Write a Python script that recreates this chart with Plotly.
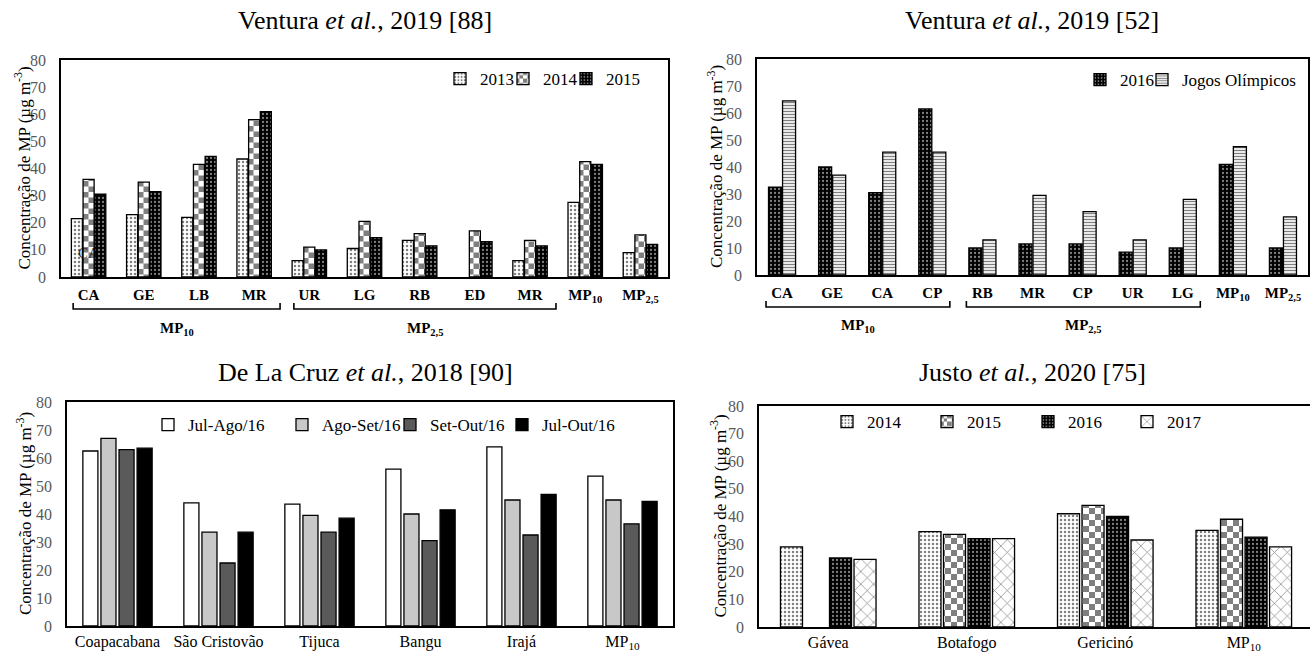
import plotly.graph_objects as go

W, H = 1310, 652
FONT = "Liberation Serif"
TICKGRAY = "#595959"

# ---------------- data ----------------
# Top-left: Ventura et al., 2019 [88]
tl_cats = ["CA", "GE", "LB", "MR", "UR", "LG", "RB", "ED", "MR", "MP<sub>10</sub>", "MP<sub>2,5</sub>"]
tl_2013 = [21.5, 23, 22, 43.5, 6, 10.5, 13.5, None, 6, 27.5, 9]
tl_2014 = [36, 35, 41.5, 58, 11, 20.5, 16, 17, 13.5, 42.5, 15.5]
tl_2015 = [30.5, 31.5, 44.5, 61, 10, 14.5, 11.5, 13, 11.5, 41.5, 12]
tl_groups = [("MP<sub>10</sub>", 0, 3), ("MP<sub>2,5</sub>", 4, 8)]

# Top-right: Ventura et al., 2019 [52]
tr_cats = ["CA", "GE", "CA", "CP", "RB", "MR", "CP", "UR", "LG", "MP<sub>10</sub>", "MP<sub>2,5</sub>"]
tr_2016 = [32.5, 40, 30.5, 61.5, 10, 11.5, 11.5, 8.5, 10, 41, 10]
tr_jogos = [64.5, 37, 45.5, 45.5, 13, 29.5, 23.5, 13, 28, 47.5, 21.5]
tr_groups = [("MP<sub>10</sub>", 0, 3), ("MP<sub>2,5</sub>", 4, 8)]

# Bottom-left: De La Cruz et al., 2018 [90]
bl_cats = ["Coapacabana", "São Cristovão", "Tijuca", "Bangu", "Irajá", "MP<sub>10</sub>"]
bl_jul_ago = [62.5, 44, 43.5, 56, 64, 53.5]
bl_ago_set = [67, 33.5, 39.5, 40, 45, 45]
bl_set_out = [63, 22.5, 33.5, 30.5, 32.5, 36.5]
bl_jul_out = [63.5, 33.5, 38.5, 41.5, 47, 44.5]

# Bottom-right: Justo et al., 2020 [75]
br_cats = ["Gávea", "Botafogo", "Gericinó", "MP<sub>10</sub>"]
br_2014 = [29, 34.5, 41, 35]
br_2015 = [None, 33.5, 44, 39]
br_2016 = [25, 32, 40, 32.5]
br_2017 = [24.5, 32, 31.5, 29]

titles = ["Ventura <i>et al.</i>, 2019 [88]", "Ventura <i>et al.</i>, 2019 [52]",
          "De La Cruz <i>et al.</i>, 2018 [90]", "Justo <i>et al.</i>, 2020 [75]"]
ytitle = "Concentração de MP (µg m<sup>-3</sup>)"

# ---------------- helpers ----------------
def px(v):
    return v / W

def py(v):
    return 1 - v / H

def checker(size):
    h = size / 2
    return f"M0,0H{h}V{h}H0Z M{h},{h}H{size}V{size}H{h}Z"

try:
    go.bar.marker.Pattern(path=checker(10))
    PATH_OK = True
except Exception:
    PATH_OK = False

def CHECK(sz):
    if PATH_OK:
        return dict(path=checker(sz), size=sz, fgcolor="black", bgcolor="white", solidity=0.5)
    return dict(shape="+", size=sz, fgcolor="black", bgcolor="white", solidity=0.5)

WDOTS = lambda sz, s: dict(shape=".", size=sz, solidity=s, fgcolor="black", bgcolor="white")
BDOTS = lambda sz, s: dict(shape=".", size=sz, solidity=s, fgcolor="white", bgcolor="black")
HLINES = dict(shape="-", size=3.0, solidity=0.45, fgcolor="black", bgcolor="white")
XHATCH = dict(shape="x", size=9, solidity=0.15, fgcolor="black", bgcolor="white")

fig = go.Figure()
legend_defs = {}
leg_counter = [0]

def add_group(series, cats, names, markers, xa, ya, w, gap, leg_pos, leg_y):
    n = len(series)
    total = n * w + (n - 1) * gap
    xs = list(range(len(cats)))
    for i, (vals, name, mk) in enumerate(zip(series, names, markers)):
        leg_counter[0] += 1
        lid = "legend" if leg_counter[0] == 1 else f"legend{leg_counter[0]}"
        legend_defs[lid] = (leg_pos[i], leg_y)
        fig.add_trace(go.Bar(
            x=xs, y=vals, name=name, xaxis=xa, yaxis=ya, legend=lid,
            width=w, offset=-total / 2 + i * (w + gap),
            marker=dict(line=dict(color="black", width=1.3), **mk),
        ))

# legend text start positions (pixels)
add_group([tl_2013, tl_2014, tl_2015], tl_cats, ["2013", "2014", "2015"],
          [dict(color="white", pattern=WDOTS(4, 0.3)), dict(color="white", pattern=CHECK(11)),
           dict(color="black", pattern=BDOTS(4, 0.25))],
          "x", "y", 0.2, 0.012, [480, 543, 606], 79)
add_group([tr_2016, tr_jogos], tr_cats, ["2016", "Jogos Olímpicos"],
          [dict(color="black", pattern=BDOTS(4, 0.25)), dict(color="white", pattern=HLINES)],
          "x2", "y2", 0.26, 0.02, [1120, 1182], 80)
add_group([bl_jul_ago, bl_ago_set, bl_set_out, bl_jul_out], bl_cats,
          ["Jul-Ago/16", "Ago-Set/16", "Set-Out/16", "Jul-Out/16"],
          [dict(color="white"), dict(color="#c8c8c8"), dict(color="#5a5a5a"), dict(color="black")],
          "x3", "y3", 0.149, 0.03, [188, 322, 430, 542], 425)
add_group([br_2014, br_2015, br_2016, br_2017], br_cats, ["2014", "2015", "2016", "2017"],
          [dict(color="white", pattern=WDOTS(4, 0.3)), dict(color="white", pattern=CHECK(12)),
           dict(color="black", pattern=BDOTS(4, 0.25)), dict(color="white", pattern=XHATCH)],
          "x4", "y4", 0.159, 0.018, [867, 967, 1068, 1167], 422)

# ---------------- axes ----------------
def xax(dom, cats, rng, yref, bold, size, standoff):
    txt = [f"<b>{c}</b>" for c in cats] if bold else cats
    return dict(domain=dom, range=rng, anchor=yref, tickmode="array",
                tickvals=list(range(len(cats))), ticktext=txt,
                showline=True, mirror=True, linecolor="black", linewidth=1.6,
                ticks="", showgrid=False, zeroline=False, ticklabelstandoff=standoff,
                tickfont=dict(family=FONT, size=size, color="black"), fixedrange=True)

def yax(dom, xref):
    return dict(domain=dom, range=[0, 80], dtick=10, anchor=xref,
                showline=True, mirror=True, linecolor="black", linewidth=1.6,
                ticks="", showgrid=False, zeroline=False, ticklabelstandoff=10,
                tickfont=dict(family=FONT, size=16, color=TICKGRAY), fixedrange=True)

fig.update_layout(
    xaxis=xax([px(61), px(668)], tl_cats, [-0.5, len(tl_cats) - 0.5], "y", True, 15, 3),
    yaxis=yax([py(277), py(60)], "x"),
    xaxis2=xax([px(757), px(1308)], tr_cats, [-0.5, len(tr_cats) - 0.5], "y2", True, 15, 3),
    yaxis2=yax([py(275), py(59)], "x2"),
    xaxis3=xax([px(67), px(673)], bl_cats, [-0.5, len(bl_cats) - 0.5], "y3", False, 16, 0),
    yaxis3=yax([py(626), py(402)], "x3"),
    xaxis4=xax([px(759), 1.0], br_cats, [-0.5, len(br_cats) - 0.5 - 0.022], "y4", False, 16, 0),
    yaxis4=yax([py(627), py(406)], "x4"),
)

# ---------------- legends (one per entry, placed like the reference) ----------------
for lid, (tx, ty) in legend_defs.items():
    fig.update_layout({lid: dict(
        orientation="h", x=px(tx - 40), y=py(ty), xanchor="left", yanchor="middle",
        font=dict(family=FONT, size=17, color="black"), bgcolor="rgba(0,0,0,0)",
        borderwidth=0, itemwidth=30)})

# ---------------- annotations ----------------
ann = []
title_pos = [(365, 20), (1032, 20), (365, 372), (1032, 372)]
for t, (x, y) in zip(titles, title_pos):
    ann.append(dict(text=t, x=px(x), y=py(y), xref="paper", yref="paper", showarrow=False,
                    xanchor="center", yanchor="middle", font=dict(family=FONT, size=26, color="black")))
for (x, y0, y1) in [(22, 60, 277), (715, 59, 275), (24, 402, 626), (718, 406, 627)]:
    ann.append(dict(text=ytitle, x=px(x), y=py((y0 + y1) / 2), xref="paper", yref="paper",
                    showarrow=False, textangle=-90, xanchor="center", yanchor="middle",
                    font=dict(family=FONT, size=17, color="black")))

shapes = []
def brackets(groups, xref, lo, hi, ybar, ytick, ylab):
    for (lab, a, b) in groups:
        x0, x1 = a - lo, b + hi
        shapes.append(dict(type="path", xref=xref, yref="paper",
                           path=f"M{x0},{py(ytick)} L{x0},{py(ybar)} L{x1},{py(ybar)} L{x1},{py(ytick)}",
                           line=dict(color="black", width=1.6)))
        ann.append(dict(text=f"<b>{lab}</b>", x=(x0 + x1) / 2, y=py(ylab), xref=xref, yref="paper",
                        showarrow=False, xanchor="center", yanchor="middle",
                        font=dict(family=FONT, size=15, color="black")))

brackets(tl_groups, "x", 0.28, 0.47, 309, 303, 329)
brackets(tr_groups, "x2", 0.32, 0.35, 307, 301, 326)

# stray label visible inside the first bar of the reference
ann.append(dict(text="CA", x=0, y=9, xref="x", yref="y", showarrow=False,
                font=dict(family=FONT, size=15, color="rgba(0,0,0,0.75)")))

fig.update_layout(
    width=W, height=H, margin=dict(l=0, r=0, t=0, b=0, autoexpand=False),
    paper_bgcolor="white", plot_bgcolor="white",
    barmode="overlay", font=dict(family=FONT, color="black"),
    annotations=ann, shapes=shapes, showlegend=True,
)

fig.write_html("out.html", config={"displayModeBar": False},
               post_script="document.body.style.margin='0';")
